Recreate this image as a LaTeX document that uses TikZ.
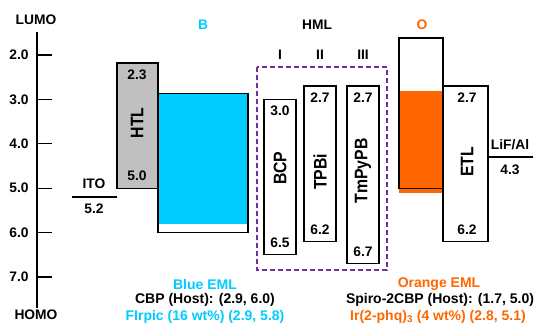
\documentclass[tikz,border=0pt]{standalone}
\usepackage{fontspec}
\setmainfont{Liberation Sans}
\usetikzlibrary{positioning}
\definecolor{eblue}{RGB}{0,204,255}
\definecolor{eorange}{RGB}{255,102,0}
\definecolor{hmlc}{RGB}{112,48,160}
\definecolor{htlc}{RGB}{192,192,192}
\tikzset{
  every picture/.style={line width=1.3pt, line join=miter},
  every node/.style={font=\bfseries\fontsize{13.8}{16}\selectfont, inner sep=1pt},
  % Schichten
  layer/.style={draw, line width=1.3pt},
  level/.style={line width=1.3pt},
  hmlbox/.style={hmlc, line width=1.5pt, dash pattern=on 5pt off 3pt},
  % Beschriftung
  vert/.style={rotate=90, yscale=1.15, font=\bfseries\fontsize{15.8}{18}\selectfont},
  note/.style={font=\bfseries\fontsize{14}{16}\selectfont},
}
\begin{document}
\begin{tikzpicture}[x=1pt, y=1pt]
  \useasboundingbox (0,0) rectangle (550,-336);
  % Energieskala: y in eV
  \begin{scope}[y=-44.4pt, yshift=33.8pt]
    \draw (37,1.48) -- (37,7.7);
    \foreach \e in {2,...,7}
      \draw (37,\e) -- (52,\e) node[pos=0, xshift=-18pt] (t\e) {\e.0};
    \node (lumo) at (36,1.21) {LUMO};
    \node (homo) at (36,7.86) {HOMO};

    % HTL
    \draw[layer, fill=htlc] (117,2.18) rectangle (158,5.0);
    \node (htl) [vert] at (137,3.53) {HTL};
    \node at (137,2.45) {2.3};
    \node at (137,4.73) {5.0};
    % Anode
    \draw[level] (72,5.2) -- (117,5.2);
    \node (ito) at (94,4.9) {ITO};
    \node at (94,5.47) {5.2};

    % blaue EML
    \fill[eblue] (158,2.86) rectangle (248,5.8);
    \draw[layer] (158,2.86) rectangle (248,6.0);
    \node[eblue] (b) at (203,1.32) {B};

    % HML I-III
    \draw[hmlbox] (257,2.27) rectangle (387,6.84);
    \node (hml) at (317,1.32) {HML};
    \draw[layer] (264,3.0) rectangle (296,6.5);
    \draw[layer] (304,2.7) rectangle (336,6.2);
    \draw[layer] (347,2.7) rectangle (379,6.7);
    \node (one) at (280,2.0) {I};
    \node (two) at (320,2.0) {II};
    \node (three) at (363,2.0) {III};
    \node (bcp) [vert] at (280,4.55) {BCP};
    \node (tpbi) [vert] at (320,4.63) {TPBi};
    \node (tmpypb) [vert] at (363,4.61) {TmPyPB};
    \node at (280,3.26) {3.0};
    \node at (280,6.23) {6.5};
    \node at (320,2.96) {2.7};
    \node at (320,5.93) {6.2};
    \node at (363,2.96) {2.7};
    \node at (363,6.43) {6.7};

    % orange EML
    \fill[eorange] (399,2.8) rectangle (443,5.1);
    \draw[layer] (399,1.62) rectangle (443,5.0);
    \node[eorange] (o) at (422,1.32) {O};

    % ETL
    \draw[layer] (443,2.7) rectangle (488,6.2);
    \node (etl) [vert] at (467,4.41) {ETL};
    \node at (467,2.96) {2.7};
    \node at (467,5.93) {6.2};
    % Kathode
    \draw[level] (488,4.3) -- (533,4.3);
    \node (lif) at (510,4.03) {LiF/Al};
    \node at (510,4.59) {4.3};
  \end{scope}

  % Materialien
  \node[note, eblue] (blue) at (205,-284) {Blue EML};
  \node[note] (cbp) at (205,-300) {CBP (Host): (2.9, 6.0)};
  \node[note, eblue] (firpic) at (205,-317) {FIrpic (16 wt\%) (2.9, 5.8)};
  \node[note, eorange] (orange) at (439,-284) {Orange EML};
  \node[note] (spiro) at (440,-300) {Spiro-2CBP (Host): (1.7, 5.0)};
  \node[note, eorange] (irphq) at (438,-317) {Ir(2-phq)\textsubscript{3} (4 wt\%) (2.8, 5.1)};
\end{tikzpicture}
\end{document}
